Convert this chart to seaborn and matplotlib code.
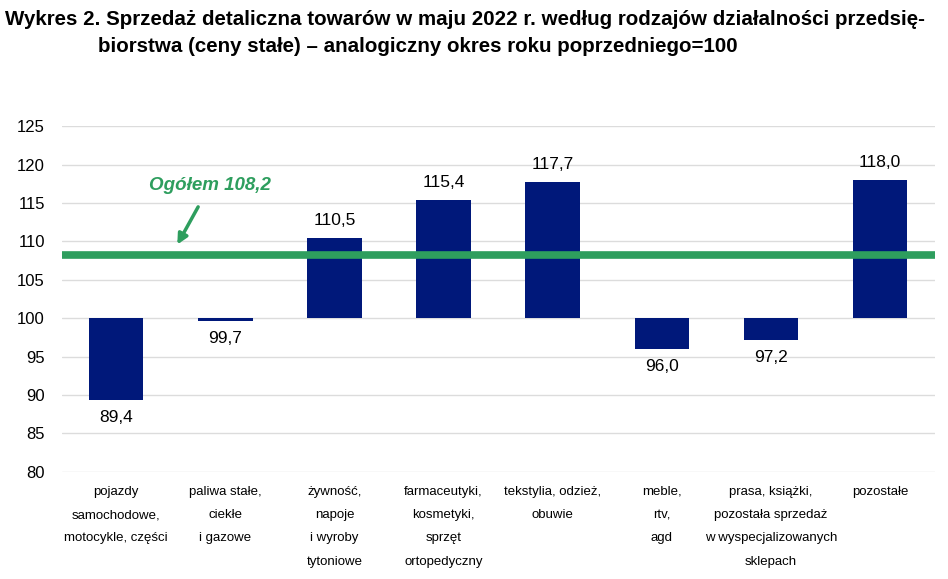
import numpy as np
import pandas as pd
import seaborn as sns
import matplotlib.pyplot as plt

categories = [
    'pojazdy\nsamochodowe,\nmotocykle, części',
    'paliwa stałe,\nciekłe\ni gazowe',
    'żywność,\nnapoje\ni wyroby\ntytoniowe',
    'farmaceutyki,\nkosmetyki,\nsprzęt\nortopedyczny',
    'tekstylia, odzież,\nobuwie',
    'meble,\nrtv,\nagd',
    'prasa, książki,\npozostała sprzedaż\nw wyspecjalizowanych\nsklepach',
    'pozostałe',
]
values = [89.4, 99.7, 110.5, 115.4, 117.7, 96.0, 97.2, 118.0]
total = 108.2
base = 100

sns.set_theme(style='white')
plt.rcParams['font.family'] = ['Liberation Sans', 'DejaVu Sans']
plt.rcParams['text.color'] = 'black'
plt.rcParams['xtick.color'] = 'black'
plt.rcParams['ytick.color'] = 'black'

df = pd.DataFrame({'cat': categories, 'val': values})
df['diff'] = df['val'] - base

fig = plt.figure(figsize=(9.48, 5.79), dpi=100)
ax = fig.add_axes([0.065, 0.185, 0.921, 0.597])

for yv in range(80, 130, 5):
    ax.axhline(yv, color='#dcdcdc', lw=1, zorder=0)

sns.barplot(data=df, x='cat', y='diff', bottom=base, color='#00187a',
            width=0.5, saturation=1, linewidth=0, ax=ax, zorder=2)

ax.axhline(total, color='#2e9e5e', lw=5.5, zorder=3)

for i, v in enumerate(values):
    lab = f'{v:.1f}'.replace('.', ',')
    if v >= base:
        ax.text(i, v + 1.3, lab, ha='center', va='bottom', fontsize=12.5)
    else:
        ax.text(i, v - 1.3, lab, ha='center', va='top', fontsize=12.5)

ax.annotate('Ogółem 108,2', xy=(0.56, 109.6), xytext=(0.86, 117.3),
            ha='center', va='center', fontsize=13.5, fontweight='bold',
            fontstyle='italic', color='#2e9e5e',
            arrowprops=dict(arrowstyle='-|>', color='#2e9e5e', lw=2.5,
                            shrinkA=8, shrinkB=0, mutation_scale=15))

ax.set_ylim(80, 125)
ax.set_xlim(-0.5, 7.5)
ax.set_yticks(range(80, 130, 5))
ax.tick_params(axis='y', labelsize=12, length=0, pad=12)
ax.tick_params(axis='x', labelsize=9.5, length=0, pad=10)
for t in ax.get_xticklabels():
    t.set_linespacing(2.25)
    t.set_va('top')
ax.set_xlabel('')
ax.set_ylabel('')
sns.despine(ax=ax, left=True, bottom=True)

fig.text(0.005, 0.967, 'Wykres 2. Sprzedaż detaliczna towarów w maju 2022 r. według rodzajów działalności przedsię-',
         fontsize=14.8, fontweight='bold', va='center', ha='left')
fig.text(0.103, 0.92, 'biorstwa (ceny stałe) – analogiczny okres roku poprzedniego=100',
         fontsize=14.8, fontweight='bold', va='center', ha='left')

fig.savefig('out.png', dpi=100)
